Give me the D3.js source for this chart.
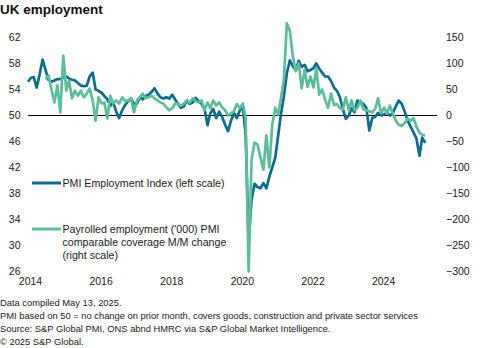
<!DOCTYPE html>
<html lang="en">
<head>
<meta charset="utf-8">
<title>UK employment</title>
<style>
  body { margin: 0; background: #fff; }
  svg { display: block; font-family: Arial, "Liberation Sans", sans-serif; }
  .tick text { font-size: 10.5px; fill: #1a1a1a; }
  .note { font-size: 9.35px; fill: #1a1a1a; }
  .leg { font-size: 10.65px; fill: #1a1a1a; }
</style>
</head>
<body>
<svg id="chart" width="482" height="348"></svg>
<script src="https://cdn.jsdelivr.net/npm/d3@7"></script>
<script>
// monthly, Jan 2014 .. Apr 2025
var startMonth = new Date(2014, 0, 1);

// PMI Employment Index (left scale)
var pmi = [
  55.2, 55.8, 55.9, 54.3, 56.3, 58.6, 57.0, 55.5, 55.2, 55.4, 55.6, 55.6,
  55.8, 56.0, 55.7, 55.5, 55.4, 55.0, 54.6, 54.5, 54.6, 56.0, 56.6, 54.0,
  53.8, 53.5, 53.0, 52.5, 51.5, 52.0, 50.6, 49.6, 50.8, 51.6, 52.2, 52.6,
  51.8, 51.8, 52.8, 52.5, 53.0, 53.2, 53.6, 54.2, 53.4, 52.8, 52.6, 52.8,
  52.6, 53.2, 52.5, 51.8, 51.2, 51.4, 52.3, 51.8, 52.0, 52.7, 52.2, 51.8,
  51.0, 48.5, 50.3, 51.0, 49.6, 50.6, 49.8, 48.6, 47.6, 49.2, 50.4, 49.6,
  50.8, 51.4, 47.0, 30.8, 37.0, 39.5, 39.0, 38.8, 39.6, 38.8, 40.6, 42.0,
  43.5, 47.0, 50.2, 53.0, 56.5, 58.5, 57.6, 57.0, 58.4, 57.5, 57.8, 56.8,
  57.0, 57.3, 58.0, 57.2, 56.6, 56.0, 56.0, 55.3, 54.3, 53.8, 52.8, 51.0,
  49.5, 50.0, 51.1, 50.5, 52.3, 52.0, 51.8, 51.2, 47.7, 49.6, 49.8, 50.4,
  50.0, 50.2, 50.4, 50.0, 50.4, 51.4, 52.3, 51.8, 50.6, 49.2, 48.3, 47.4,
  46.4, 43.8, 46.6, 45.8
];

// Payrolled employment ('000), M/M change (right scale); series starts Jul 2014
var payroll = [
  null, null, null, null, null, null, 70, 77, 50, 25, 58, 6,
  115, 48, 67, 33, 48, 38, 48, 35, 42, 52, 29, -10,
  35, 23, 25, -6, 38, 23, 29, 23, 35, 28, 29, 33,
  6, 29, 35, 42, 33, 35, 38, 33, 29, 25, 23, 16,
  10, 14, 23, 23, 19, 23, 29, 25, 33, 28, 25, 29,
  10, 25, 14, 29, 19, 25, 16, 10, 0, 4, 8, 22,
  14, 23, -5, -300, -86, -52, -56, -80, -104, -38, -100, -18,
  15, 2, 33, 70, 177, 163, 115, 85, 100, 52, 88, 55,
  75, 54, 90, 40, 50, 30, 15, 42, 20, 22, 14, 12,
  35, 10, 29, 10, 15, 29, 12, 10, 8, 6, 13, 33,
  4, 15, 4, 19, 4, -10, -18, -20, -15, -6, -10, -5,
  -22, -33, -37, -38
];

var leftTicks = [26, 30, 34, 38, 42, 46, 50, 54, 58, 62];
var rightTicks = [-300, -250, -200, -150, -100, -50, 0, 50, 100, 150];
var yearTicks = [2014, 2016, 2018, 2020, 2022, 2024];

var notes = [
  "Data compiled May 13, 2025.",
  "PMI based on 50 = no change on prior month, covers goods, construction and private sector services",
  "Source: S&P Global PMI, ONS abnd HMRC via S&P Global Market Intelligence.",
  "\u00a9 2025 S&P Global."
];

var darkCol = "#0d6c8b";
var lightCol = "#5cbd9e";

var months = pmi.map(function(d, i) { return d3.timeMonth.offset(startMonth, i); });

var svg = d3.select("#chart");

var x = d3.scaleTime()
  .domain([startMonth, new Date(2025, 7, 1)])
  .range([28, 437]);
var yL = d3.scaleLinear().domain([26, 62]).range([271.5, 37.5]);
var yR = d3.scaleLinear().domain([-300, 150]).range([271.5, 37.5]);

// title
svg.append("text")
  .attr("x", 0).attr("y", 14)
  .attr("font-size", "13.5px").attr("font-weight", "bold").attr("fill", "#111")
  .text("UK employment");

// axes: labels only
var gl = svg.append("g").attr("transform", "translate(20.5,0)")
  .call(d3.axisLeft(yL).tickValues(leftTicks).tickSize(0).tickPadding(0));
var gr = svg.append("g").attr("transform", "translate(446,0)")
  .call(d3.axisRight(yR).tickValues(rightTicks).tickSize(0).tickPadding(0));
var gb = svg.append("g").attr("transform", "translate(2,278)")
  .call(d3.axisBottom(x)
    .tickValues(yearTicks.map(function(y) { return new Date(y, 0, 1); }))
    .tickFormat(d3.timeFormat("%Y"))
    .tickSize(0).tickPadding(0));
[gl, gr, gb].forEach(function(g) {
  g.select(".domain").remove();
  g.selectAll("text").attr("font-family", null).attr("font-size", null);
});

// 50 / zero line
svg.append("line")
  .attr("x1", 28).attr("x2", 437)
  .attr("y1", yL(50)).attr("y2", yL(50))
  .attr("stroke", "#000").attr("stroke-width", 1);

var linePmi = d3.line()
  .x(function(d, i) { return x(months[i]); })
  .y(function(d) { return yL(d); });

var linePay = d3.line()
  .defined(function(d) { return d != null; })
  .x(function(d, i) { return x(months[i]); })
  .y(function(d) { return yR(d); });

svg.append("path")
  .datum(pmi)
  .attr("d", linePmi)
  .attr("fill", "none")
  .attr("stroke", darkCol)
  .attr("stroke-width", 2.7)
  .attr("stroke-linejoin", "round");

svg.append("path")
  .datum(payroll)
  .attr("d", linePay)
  .attr("fill", "none")
  .attr("stroke", lightCol)
  .attr("stroke-width", 2.7)
  .attr("stroke-linejoin", "round");

// legend
var legend = [
  { col: darkCol, y: 183, lines: ["PMI Employment Index (left scale)"] },
  { col: lightCol, y: 229, lines: ["Payrolled employment ('000) PMI", "comparable coverage M/M change", "(right scale)"] }
];
legend.forEach(function(l) {
  svg.append("line")
    .attr("x1", 32).attr("x2", 61)
    .attr("y1", l.y).attr("y2", l.y)
    .attr("stroke", l.col).attr("stroke-width", 3);
  l.lines.forEach(function(t, i) {
    svg.append("text")
      .attr("class", "leg")
      .attr("x", 62.5).attr("y", l.y + 4 + i * 13)
      .text(t);
  });
});

// footnotes
svg.selectAll("text.note")
  .data(notes)
  .enter()
  .append("text")
  .attr("class", "note")
  .attr("x", 0)
  .attr("y", function(d, i) { return 305.5 + i * 13.3; })
  .text(function(d) { return d; });
</script>
</body>
</html>
